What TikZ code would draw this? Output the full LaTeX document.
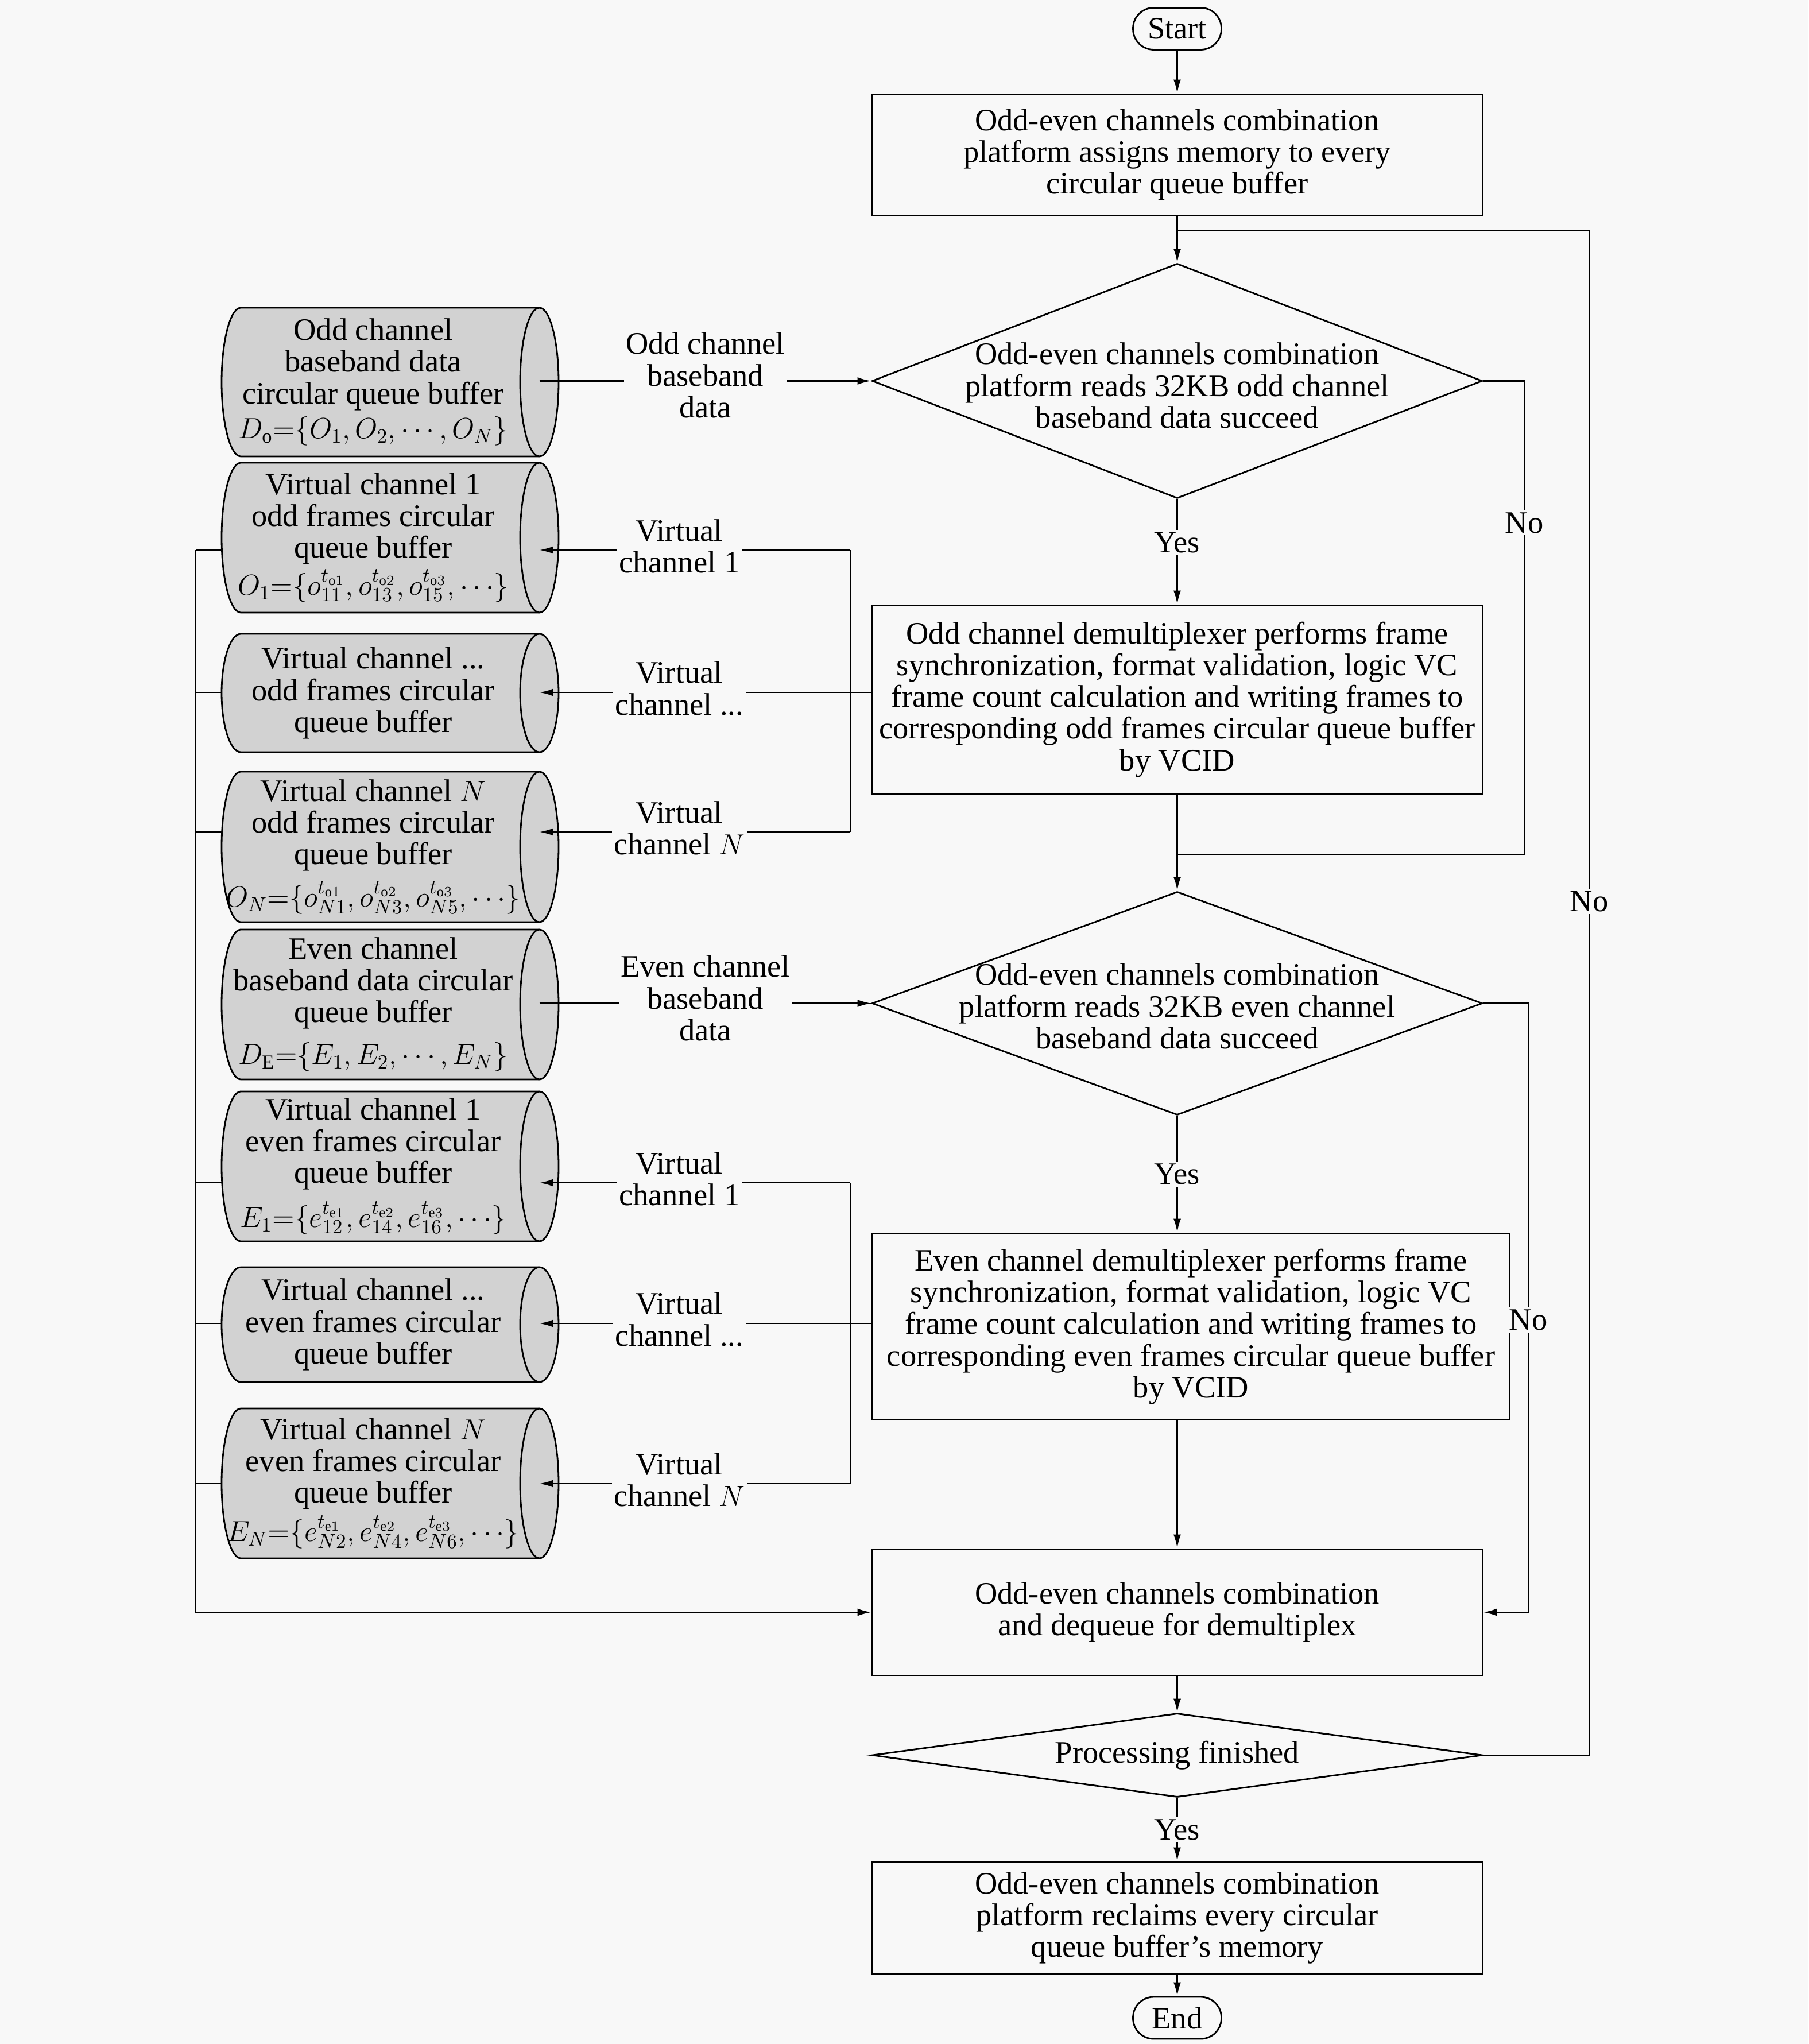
\documentclass[tikz,border=0pt]{standalone}
\usepackage{fontspec}
\setmainfont{Liberation Serif}
\usetikzlibrary{shapes.geometric,arrows.meta,calc}
\definecolor{bggray}{RGB}{248,248,248}
\definecolor{cylgray}{RGB}{210,210,210}
\newcommand{\bufmath}[1]{{\fontsize{14}{15.7}\selectfont$#1$}}
\tikzset{
  proc/.style={draw, align=center, minimum width=10.63cm, inner xsep=1pt, inner ysep=2pt},
  decide/.style={draw, diamond, minimum width=10.63cm, inner sep=0pt},
  dtext/.style={align=center, inner sep=0pt},
  term/.style={draw, rounded corners=0.36cm, minimum width=1.54cm, minimum height=0.73cm, inner sep=0pt},
  buffer/.style={align=center, inner sep=1pt, minimum width=5.27cm},
  lbl/.style={fill=bggray, align=center, inner sep=1pt},
  >={Latex[length=0.24cm,width=0.13cm]}
}

\begin{document}
\begin{tikzpicture}[line width=0.8pt, font=\fontsize{15.5}{15.7}\selectfont]

		\fill[bggray] (0,0) rectangle (31.5,-35.6);

		% main column
		\node[term] (start) at (20.505,-0.50) {Start};
		\node[proc, minimum height=2.11cm] (assign) at (20.505,-2.695) {Odd-even channels combination\\platform assigns memory to every\\circular queue buffer};
		\node[decide, minimum height=4.09cm, label={[dtext,yshift=-0.08cm]center:{Odd-even channels combination\\platform reads 32KB odd channel\\baseband data succeed}}] (readodd) at (20.505,-6.635) {};
		\node[proc, minimum height=3.29cm, inner xsep=0pt] (odddemux) at (20.505,-12.185) {Odd channel demultiplexer performs frame\\synchronization, format validation, logic VC\\frame count calculation and writing frames to\\corresponding odd frames circular queue buffer\\by VCID};
		\node[decide, minimum height=3.89cm, label={[dtext,yshift=-0.05cm]center:{Odd-even channels combination\\platform reads 32KB even channel\\baseband data succeed}}] (readeven) at (20.505,-17.475) {};
		\node[proc, minimum width=11.11cm, minimum height=3.25cm, inner xsep=0pt] (evendemux) at (20.745,-23.105) {Even channel demultiplexer performs frame\\synchronization, format validation, logic VC\\frame count calculation and writing frames to\\corresponding even frames circular queue buffer\\by VCID};
		\node[proc, minimum height=2.20cm] (combine) at (20.505,-28.08) {Odd-even channels combination\\and dequeue for demultiplex};
		\node[decide, minimum height=1.46cm, label={[dtext]center:{Processing finished}}] (finished) at (20.505,-30.57) {};
		\node[proc, minimum height=1.95cm] (reclaim) at (20.505,-33.405) {Odd-even channels combination\\platform reclaims every circular\\queue buffer’s memory};
		\node[term] (stop) at (20.505,-35.145) {End};

		% buffer bodies (lying cylinders)
		\foreach \y/\h in {-6.655/2.59, -9.365/2.61, -12.07/2.06, -14.75/2.62, -17.495/2.61, -20.315/2.61, -23.07/2.00, -25.835/2.61}{
		\filldraw[fill=cylgray] (4.195,{\y+\h/2}) -- (9.395,{\y+\h/2}) arc[start angle=90, end angle=-90, x radius=0.335, y radius=\h/2]
			-- (4.195,{\y-\h/2}) arc[start angle=270, end angle=90, x radius=0.335, y radius=\h/2] -- cycle;
		\draw (9.395,{\y+\h/2}) arc[start angle=90, end angle=270, x radius=0.335, y radius=\h/2];
		}

		% buffers
		\node[buffer] (oddbuf) at (6.50,-6.655) {Odd channel\\baseband data\\circular queue buffer\\[1.5pt]\bufmath{D_{\mathrm{o}}{=}\{O_1, O_2, \cdots, O_N\}}};
		\node[buffer] (vcaodd) at (6.50,-9.365) {Virtual channel 1\\odd frames circular\\queue buffer\\[1.5pt]\bufmath{O_1{=}\{o_{11}^{t_{\mathrm{o}1}}, o_{13}^{t_{\mathrm{o}2}}, o_{15}^{t_{\mathrm{o}3}}, \cdots\}}};
		\node[buffer] (vcbodd) at (6.50,-12.07) {Virtual channel ...\\odd frames circular\\queue buffer};
		\node[buffer] (vccodd) at (6.50,-14.75) {Virtual channel $N$\\odd frames circular\\queue buffer\\[4pt]\bufmath{O_N{=}\{o_{N1}^{t_{\mathrm{o}1}}, o_{N3}^{t_{\mathrm{o}2}}, o_{N5}^{t_{\mathrm{o}3}}, \cdots\}}};
		\node[buffer] (evenbuf) at (6.50,-17.495) {Even channel\\baseband data circular\\queue buffer\\[5pt]\bufmath{D_{\mathrm{E}}{=}\{E_1, E_2, \cdots, E_N\}}};
		\node[buffer] (vcaeven) at (6.50,-20.315) {Virtual channel 1\\even frames circular\\queue buffer\\[5pt]\bufmath{E_1{=}\{e_{12}^{t_{\mathrm{e}1}}, e_{14}^{t_{\mathrm{e}2}}, e_{16}^{t_{\mathrm{e}3}}, \cdots\}}};
		\node[buffer] (vcbeven) at (6.50,-23.07) {Virtual channel ...\\even frames circular\\queue buffer};
		\node[buffer] (vcceven) at (6.50,-25.835) {Virtual channel $N$\\even frames circular\\queue buffer\\[2pt]\bufmath{E_N{=}\{e_{N2}^{t_{\mathrm{e}1}}, e_{N4}^{t_{\mathrm{e}2}}, e_{N6}^{t_{\mathrm{e}3}}, \cdots\}}};
		\foreach \b in {oddbuf,vcaodd,vcbodd,vccodd,evenbuf,vcaeven,vcbeven,vcceven}{
		\coordinate (\b-r) at (9.395,0 |- \b.center);
		\coordinate (\b-l) at (3.86,0 |- \b.center);
		}

		% rows, bus and rails
		\coordinate (ro1) at (0,-9.58);
		\coordinate (ro2) at (0,-12.06);
		\coordinate (ro3) at (0,-14.49);
		\coordinate (re1) at (0,-20.60);
		\coordinate (re2) at (0,-23.05);
		\coordinate (re3) at (0,-25.84);
		\coordinate (bus) at (3.41,0);
		\coordinate (brk) at (14.81,0);
		\coordinate (railA) at (26.55,0);
		\coordinate (railB) at (26.62,0);
		\coordinate (railC) at (27.68,0);
		\coordinate (joinA) at (20.505,-14.88);
		\coordinate (joinB) at (20.505,-4.02);

		% main flow
		\draw[->] (start) -- (assign);
		\draw[->] (assign) -- (readodd);
		\draw[->] (readodd) -- node[lbl,pos=0.41]{Yes} (odddemux);
		\draw[->] (odddemux) -- (readeven);
		\draw[->] (readeven) -- node[lbl]{Yes} (readeven.south |- evendemux.north);
		\draw[->] (combine.north |- evendemux.south) -- (combine);
		\draw[->] (combine) -- (finished);
		\draw[->] (finished) -- node[lbl]{Yes} (reclaim);
		\draw[->] (reclaim) -- (stop);

		% no branches
		\draw (readodd.east) -| node[lbl,pos=0.65]{No} (railA |- joinA) -- (joinA);
		\draw[->] (readeven.east) -| node[lbl,pos=0.76]{No} (railB |- combine.east) -- (combine.east);
		\draw (finished.east) -| node[lbl,pos=0.78]{No} (railC |- joinB) -- (joinB);

		% baseband data in
		\draw[->] (oddbuf-r |- readodd.west) -- node[lbl,yshift=0.1cm]{Odd channel\\baseband\\data} (readodd.west);
		\draw[->] (evenbuf-r |- readeven.west) -- node[lbl,yshift=0.09cm]{Even channel\\baseband\\data} (readeven.west);

		% frames to buffers
		\draw (odddemux.west |- ro2) -- (brk |- ro2);
		\draw (brk |- ro1) -- (brk |- ro3);
		\draw (evendemux.west |- re2) -- (brk |- re2);
		\draw (brk |- re1) -- (brk |- re3);
		\foreach \r/\b/\t in {ro1/vcaodd/{Virtual\\channel 1}, ro2/vcbodd/{Virtual\\channel ...}, ro3/vccodd/{Virtual\\channel $N$},
			re1/vcaeven/{Virtual\\channel 1}, re2/vcbeven/{Virtual\\channel ...}, re3/vcceven/{Virtual\\channel $N$}}
		\draw[->] (brk |- \r) -- node[lbl,pos=0.55,yshift=0.07cm]{\t} (\b-r |- \r);

		% buffers to dequeue
		\foreach \r/\b in {ro1/vcaodd, ro2/vcbodd, ro3/vccodd, re1/vcaeven, re2/vcbeven, re3/vcceven}
		\draw (bus |- \r) -- (\b-l |- \r);
		\draw[->] (bus |- ro1) -- (bus |- combine.west) -- (combine.west);

\end{tikzpicture}
\end{document}
